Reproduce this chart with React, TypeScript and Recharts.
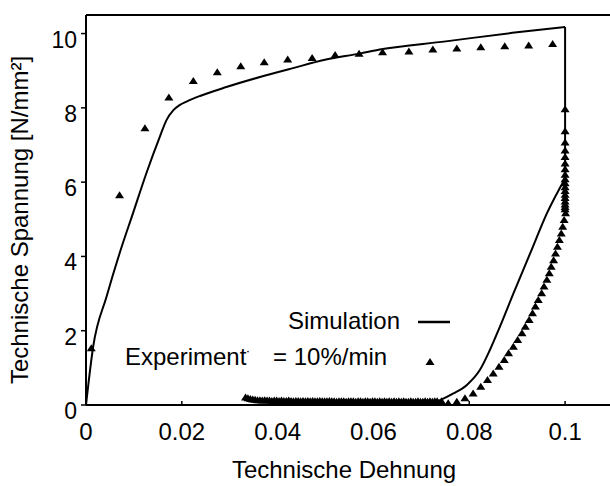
import {
  ComposedChart,
  Line,
  Scatter,
  XAxis,
  YAxis,
  ReferenceLine,
} from "recharts"

const FONT = "'Liberation Sans', Arial, sans-serif"

// Simulation, loading branch
const simLoadStrain = [
  0, 0.0015, 0.0043, 0.007, 0.0098, 0.0126, 0.0154, 0.0168, 0.0182, 0.0196,
  0.021, 0.0238, 0.0293, 0.0363, 0.0432, 0.0501, 0.0571, 0.0613, 0.0751,
  0.089, 0.1,
]
const simLoadStress = [
  0, 1.57, 2.92, 4.08, 5.16, 6.24, 7.22, 7.67, 7.93, 8.08,
  8.17, 8.32, 8.56, 8.83, 9.07, 9.3, 9.46, 9.57, 9.79,
  10.02, 10.18,
]

// Simulation, elastic drop at 0.1
const simDropStrain = [0.1, 0.1]
const simDropStress = [10.18, 6.1]

// Simulation, unloading curve
const simUnloadStrain = [
  0.1, 0.0962, 0.0927, 0.0892, 0.0864, 0.0843, 0.0822, 0.0795, 0.0767,
  0.0739, 0.0725, 0.071,
]
const simUnloadStress = [
  6.1, 5.16, 4.08, 3.0, 2.11, 1.48, 0.94, 0.54, 0.31,
  0.13, 0.06, 0,
]

// Experiment, loading branch
const expLoadStrain = [
  0.0011, 0.007, 0.0123, 0.0173, 0.0224, 0.0274, 0.0323, 0.0372, 0.0421,
  0.0472, 0.052, 0.057, 0.0619, 0.0674, 0.0724, 0.0774, 0.0824, 0.0874,
  0.0924, 0.0974,
]
const expLoadStress = [
  1.53, 5.65, 7.45, 8.28, 8.72, 8.96, 9.12, 9.23, 9.3,
  9.34, 9.42, 9.46, 9.5, 9.52, 9.57, 9.6, 9.63, 9.66,
  9.68, 9.72,
]

// Experiment, drop at 0.1 and unloading curve
const expUnloadStrain = [
  0.1, 0.1, 0.1, 0.1, 0.1, 0.1, 0.1, 0.1, 0.1, 0.1, 0.1, 0.1, 0.1, 0.1,
  0.1, 0.1, 0.1, 0.1,
  0.1001, 0.0998, 0.0995, 0.0992, 0.0988, 0.0984, 0.098, 0.0976, 0.0971,
  0.0967, 0.0962, 0.0956, 0.0951, 0.0944, 0.0938, 0.0932, 0.0925, 0.0917,
  0.091, 0.0901, 0.0892, 0.0882, 0.0873, 0.0862, 0.085, 0.0838, 0.0824,
  0.0808, 0.0791, 0.0774, 0.0756, 0.0742,
]
const expUnloadStress = [
  7.96, 7.37, 7.07, 6.85, 6.68, 6.5, 6.35, 6.2, 6.08, 5.97, 5.86, 5.76, 5.66,
  5.57, 5.48, 5.4, 5.33, 5.27,
  5.16, 4.98, 4.8, 4.62, 4.44, 4.26, 4.08, 3.9, 3.72,
  3.55, 3.37, 3.19, 3.01, 2.83, 2.65, 2.47, 2.29, 2.11,
  1.93, 1.75, 1.57, 1.39, 1.21, 1.03, 0.85, 0.67, 0.49,
  0.31, 0.18, 0.09, 0.05, 0.1,
]

// Experiment, flat part near zero stress (very dense)
const expFlatStrain = [
  0.0333, 0.0338, 0.0343, 0.0348, 0.0353, 0.0358, 0.0363, 0.0368, 0.0373,
  0.0378, 0.0383, 0.0388, 0.0393, 0.0398, 0.0403, 0.0408, 0.0413, 0.0418,
  0.0423, 0.0428, 0.0433, 0.0438, 0.0443, 0.0448, 0.0453, 0.0458, 0.0463,
  0.0468, 0.0473, 0.0478, 0.0483, 0.0488, 0.0493, 0.0498, 0.0503, 0.0508,
  0.0513, 0.0518, 0.0523, 0.0528, 0.0533, 0.0538, 0.0543, 0.0548, 0.0553,
  0.0558, 0.0563, 0.0568, 0.0573, 0.0578, 0.0583, 0.0588, 0.0593, 0.0598,
  0.0603, 0.0608, 0.0613, 0.0618, 0.0623, 0.0628, 0.0633, 0.0638, 0.0643,
  0.0648, 0.0653, 0.0658, 0.0663, 0.0668, 0.0673, 0.0678, 0.0683, 0.0688,
  0.0693, 0.0698, 0.0703, 0.0708, 0.0713, 0.0718, 0.0723, 0.0728, 0.0733,
]
const expFlatStress = [
  0.2, 0.18, 0.16, 0.15, 0.14, 0.13, 0.13, 0.12, 0.13,
  0.12, 0.12, 0.11, 0.12, 0.12, 0.11, 0.12, 0.11, 0.11,
  0.12, 0.11, 0.1, 0.11, 0.11, 0.1, 0.11, 0.1, 0.11,
  0.1, 0.11, 0.1, 0.1, 0.11, 0.1, 0.1, 0.1, 0.11,
  0.1, 0.1, 0.09, 0.1, 0.1, 0.1, 0.09, 0.1, 0.1,
  0.1, 0.09, 0.1, 0.1, 0.09, 0.1, 0.1, 0.09, 0.1,
  0.1, 0.09, 0.1, 0.09, 0.1, 0.09, 0.1, 0.09, 0.1,
  0.09, 0.1, 0.09, 0.1, 0.09, 0.09, 0.1, 0.09, 0.09,
  0.1, 0.09, 0.09, 0.1, 0.09, 0.1, 0.09, 0.1, 0.1,
]

const xTicks = [0, 0.02, 0.04, 0.06, 0.08, 0.1]
const yTicks = [0, 2, 4, 6, 8, 10]

const toPoints = (xs: number[], ys: number[]) =>
  xs.map((x, i) => ({ x, y: ys[i] }))

const simLoad = toPoints(simLoadStrain, simLoadStress)
const simDrop = toPoints(simDropStrain, simDropStress)
const simUnload = toPoints(simUnloadStrain, simUnloadStress)
const expData = [
  ...toPoints(expLoadStrain, expLoadStress),
  ...toPoints(expUnloadStrain, expUnloadStress),
  ...toPoints(expFlatStrain, expFlatStress),
]

const Triangle = (props: any) => {
  const { cx, cy } = props
  if (cx == null || cy == null) return null
  return (
    <path
      d={`M${cx},${cy - 4} L${cx + 4.5},${cy + 3} L${cx - 4.5},${cy + 3} Z`}
      fill="#000"
    />
  )
}

// x ticks point inward (up), labels below
const XTick = (props: any) => {
  const { x, y, payload } = props
  return (
    <g>
      <line x1={x} y1={y} x2={x} y2={y - 4} stroke="#000" strokeWidth={1.5} />
      <text x={x} y={y + 35} textAnchor="middle" fontSize={24} fontFamily={FONT} fill="#000">
        {payload.value}
      </text>
    </g>
  )
}

// labels sit a few px below their ticks in the original
const YTick = (props: any) => {
  const { x, y, payload } = props
  return (
    <text
      x={x}
      y={y + 6}
      dy="0.35em"
      textAnchor="end"
      fontSize={23}
      fontFamily={FONT}
      fill="#000"
    >
      {payload.value}
    </text>
  )
}

const lineProps = {
  dataKey: "y",
  stroke: "#000",
  strokeWidth: 2,
  dot: false,
  activeDot: false,
  isAnimationActive: false,
}

export default function App() {
  return (
    <div
      style={{
        position: "absolute",
        left: 0,
        top: 0,
        width: 610,
        height: 486,
        overflow: "hidden",
        background: "#fff",
      }}
    >
      <ComposedChart
        width={640}
        height={486}
        margin={{ top: 15, right: 27, bottom: 0, left: 0 }}
      >
        <XAxis
          type="number"
          dataKey="x"
          domain={[0, 0.11]}
          ticks={xTicks}
          height={81}
          tickSize={0}
          tickMargin={0}
          tickLine={false}
          tick={<XTick />}
          axisLine={{ stroke: "#000", strokeWidth: 2 }}
          allowDataOverflow
        />
        <YAxis
          type="number"
          dataKey="y"
          domain={[0, 10.5]}
          ticks={yTicks}
          width={86}
          tickSize={5}
          tickMargin={4}
          tickLine={{ stroke: "#000", strokeWidth: 1.5 }}
          tick={<YTick />}
          axisLine={{ stroke: "#000", strokeWidth: 2 }}
          allowDataOverflow
        />
        <ReferenceLine y={10.5} stroke="#000" strokeWidth={2} />

        <Line data={simLoad} type="monotoneX" {...lineProps} />
        <Line data={simDrop} type="linear" {...lineProps} />
        <Line data={simUnload} type="monotoneX" {...lineProps} />
        <Scatter
          data={expData}
          dataKey="y"
          shape={<Triangle />}
          isAnimationActive={false}
        />
      </ComposedChart>

      {/* axis titles + legend */}
      <svg
        width={610}
        height={486}
        style={{ position: "absolute", left: 0, top: 0, pointerEvents: "none" }}
        fontFamily={FONT}
      >
        <text x={344} y={478} textAnchor="middle" fontSize={24} fill="#000">
          Technische Dehnung
        </text>
        <text
          x={28}
          y={220}
          textAnchor="middle"
          fontSize={24}
          fill="#000"
          transform="rotate(-90 28 220)"
        >
          Technische Spannung [N/mm²]
        </text>

        <text x={400} y={329} textAnchor="end" fontSize={24} fill="#000">
          Simulation
        </text>
        <line x1={418} y1={322} x2={450} y2={322} stroke="#000" strokeWidth={2.5} />

        <text x={125} y={365} fontSize={24} fill="#000">
          Experiment
        </text>
        <text x={246} y={363} fontSize={16} fill="#000">
          ˙
        </text>
        <text x={273} y={365} fontSize={24} fill="#000">
          = 10%/min
        </text>
        <path d="M430,358 L434.5,365 L425.5,365 Z" fill="#000" />
      </svg>
    </div>
  )
}
